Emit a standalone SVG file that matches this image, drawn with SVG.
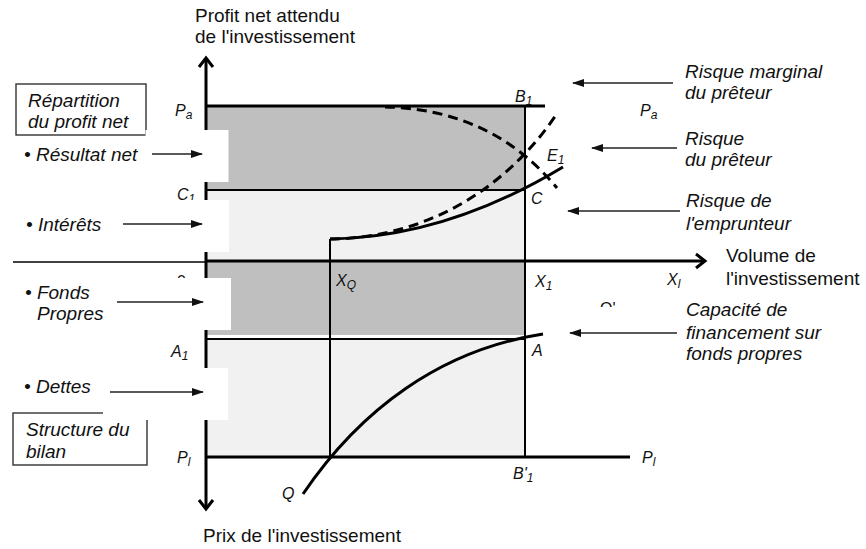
<svg xmlns="http://www.w3.org/2000/svg" width="866" height="549" viewBox="0 0 866 549">
<defs>
<style>
.t{font-family:"Liberation Sans",Arial,sans-serif;font-size:19px;fill:#111}
.i{font-style:italic}
.pt{font-family:"Liberation Sans",Arial,sans-serif;font-size:16px;font-style:italic;fill:#111}
.sub{font-size:12px}
.ax{stroke:#000;stroke-width:3;fill:none}
.ln{stroke:#000;stroke-width:2;fill:none}
.cv{stroke:#000;stroke-width:3;fill:none}
.ds{stroke:#000;stroke-width:3;fill:none;stroke-dasharray:10 6}
.ar{stroke:#222;stroke-width:1.6;fill:none;marker-end:url(#ah)}
.patch{fill:#fff}
.box{fill:none;stroke:#333;stroke-width:1.4}
</style>
<marker id="ah" viewBox="0 0 12 8" refX="11" refY="4" markerWidth="12" markerHeight="8" markerUnits="userSpaceOnUse" orient="auto">
<path d="M0,0 L12,4 L0,8 z" fill="#111"/>
</marker>
</defs>
<rect width="866" height="549" fill="#fff"/>

<g id="regions">
<rect x="206" y="107" width="319" height="83" fill="#bfbfbf"/>
<rect x="206" y="190" width="319" height="71" fill="#f1f1f1"/>
<rect x="206" y="262" width="319" height="73" fill="#bfbfbf"/>
<rect x="206" y="339" width="319" height="118" fill="#f1f1f1"/>
</g>

<g id="grid-lines">
<line class="ax" x1="205" y1="106" x2="545" y2="106"/>
<line class="ln" x1="205" y1="190" x2="525" y2="190"/>
<line class="ln" x1="205" y1="339" x2="525" y2="339"/>
<line class="ax" x1="205" y1="457" x2="630" y2="457"/>
<line class="ln" x1="525" y1="106" x2="525" y2="457"/>
<line class="ln" x1="330" y1="239" x2="330" y2="457"/>
</g>

<g id="axes">
<line x1="13" y1="262" x2="205" y2="262" stroke="#000" stroke-width="1.6"/>
<line class="ax" x1="205" y1="261" x2="704" y2="261"/>
<polyline class="ax" points="696,254 705,261 696,268"/>
<line class="ax" x1="206" y1="58" x2="206" y2="509"/>
<polyline class="ax" points="199,67 206,58 213,67"/>
<polyline class="ax" points="199,500 206,509 213,500"/>
</g>

<g id="curves">
<path id="risque-emprunteur" class="cv" d="M330,239 C420,238 500,205 563,167"/>
<path id="risque-preteur" class="ds" d="M330,239 C430,238 510,185 558,112"/>
<path id="risque-marginal" class="ds" d="M385,107 C440,108 505,125 557,188"/>
<path id="capacite" class="cv" d="M303,494 C360,410 440,350 543,334"/>
</g>

<g id="point-labels">
<text class="pt" x="177" y="287" style="font-style:normal">0</text>
<text class="pt" x="600" y="314" style="font-style:normal">O'</text>
<rect x="590" y="307" width="40" height="18" fill="#fff"/>
<text class="pt" x="175" y="116">P<tspan class="sub" dy="3">a</tspan></text>
<text class="pt" x="515" y="102">B<tspan class="sub" dy="3">1</tspan></text>
<text class="pt" x="547" y="161">E<tspan class="sub" dy="3">1</tspan></text>
<text class="pt" x="531" y="204">C</text>
<text class="pt" x="177" y="200">C<tspan class="sub" dy="3">1</tspan></text>
<text class="pt" x="171" y="357">A<tspan class="sub" dy="3">1</tspan></text>
<text class="pt" x="177" y="463">P<tspan class="sub" dy="3">l</tspan></text>
<text class="pt" x="282" y="499">Q</text>
<text class="pt" x="336" y="286">X<tspan class="sub" dy="3">Q</tspan></text>
<text class="pt" x="535" y="287">X<tspan class="sub" dy="3">1</tspan></text>
<text class="pt" x="532" y="356">A</text>
<text class="pt" x="667" y="285">X<tspan class="sub" dy="3">l</tspan></text>
<text class="pt" x="640" y="116">P<tspan class="sub" dy="3">a</tspan></text>
<text class="pt" x="642" y="463">P<tspan class="sub" dy="3">l</tspan></text>
<text class="pt" x="513" y="479">B'<tspan class="sub" dy="3">1</tspan></text>
</g>

<g id="box-repartition">
<rect class="box" x="16" y="84" width="130" height="51"/>
<text class="t i" x="28" y="107">Répartition</text>
<text class="t i" x="28" y="128">du profit net</text>
</g>
<g id="box-structure">
<rect class="box" x="13" y="413" width="134" height="52"/>
<text class="t i" x="26" y="436">Structure du</text>
<text class="t i" x="26" y="458">bilan</text>
</g>

<g id="patches">
<rect class="patch" x="145.5" y="130" width="83" height="52"/>
<rect class="patch" x="150" y="200" width="79" height="52"/>
<rect class="patch" x="150" y="278" width="81" height="52"/>
<rect class="patch" x="103" y="368" width="125" height="52"/>
</g>

<g id="axis-titles">
<text class="t" x="195" y="22">Profit net attendu</text>
<text class="t" x="195" y="43">de l'investissement</text>
<text class="t" x="726" y="262">Volume de</text>
<text class="t" x="726" y="285">l'investissement</text>
<text class="t" x="203" y="542">Prix de l'investissement</text>
</g>

<g id="left-labels">
<text class="t i" x="24" y="161">• Résultat net</text>
<text class="t i" x="26" y="231">• Intérêts</text>
<text class="t i" x="25" y="299">• Fonds</text>
<text class="t i" x="37" y="320">Propres</text>
<text class="t i" x="24" y="393">• Dettes</text>
</g>

<g id="right-labels">
<text class="t i" x="685" y="78">Risque marginal</text>
<text class="t i" x="685" y="99">du prêteur</text>
<text class="t i" x="685" y="145">Risque</text>
<text class="t i" x="685" y="166">du prêteur</text>
<text class="t i" x="686" y="207">Risque de</text>
<text class="t i" x="686" y="230">l'emprunteur</text>
<text class="t i" x="686" y="316">Capacité de</text>
<text class="t i" x="686" y="339">financement sur</text>
<text class="t i" x="686" y="360">fonds propres</text>
</g>

<g id="connectors">
<line class="ar" x1="152" y1="154" x2="202" y2="154"/>
<line class="ar" x1="123" y1="224" x2="202" y2="224"/>
<line class="ar" x1="117" y1="302" x2="203" y2="302"/>
<line class="ar" x1="110" y1="392" x2="203" y2="392"/>
<line class="ar" x1="673" y1="83" x2="573" y2="83"/>
<line class="ar" x1="677" y1="148" x2="592" y2="148"/>
<line class="ar" x1="680" y1="211" x2="568" y2="211"/>
<line class="ar" x1="677" y1="333" x2="570" y2="333"/>
</g>
</svg>
